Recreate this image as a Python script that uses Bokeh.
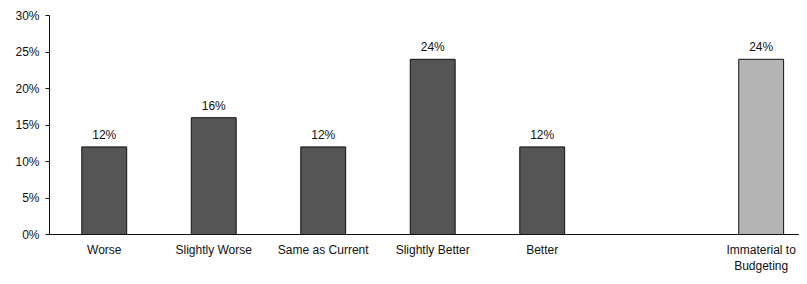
from bokeh.plotting import figure
from bokeh.models import Range1d, FixedTicker, ColumnDataSource, NumeralTickFormatter
from bokeh.core.properties import value
from bokeh.embed import file_html
from bokeh.resources import INLINE

categories = ["Worse", "Slightly Worse", "Same as Current", "Slightly Better", "Better", "", "Immaterial to\nBudgeting"]
values = [12, 16, 12, 24, 12, None, 24]
colors = ["#555555", "#555555", "#555555", "#555555", "#555555", None, "#b4b4b4"]
y_ticks = [0, 5, 10, 15, 20, 25, 30]

xs, tops, cols, labels = [], [], [], []
for i, (v, c) in enumerate(zip(values, colors)):
    if v is None:
        continue
    xs.append(i + 0.5)
    tops.append(v / 100)
    cols.append(c)
    labels.append(f"{v}%")
src = ColumnDataSource(dict(x=xs, top=tops, color=cols, label=labels))

p = figure(width=799, height=276, output_backend="svg", toolbar_location=None,
           x_range=Range1d(0, 6.85), y_range=Range1d(0, 0.30),
           min_border_left=49, min_border_top=15, min_border_bottom=39, min_border_right=0)
p.outline_line_color = None
p.grid.grid_line_color = None

p.vbar(x="x", top="top", width=0.41, source=src, fill_color="color", line_color="#111111", line_width=1)
p.text(x="x", y="top", text="label", source=src, text_align="center", text_baseline="bottom",
       y_offset=-5, text_font=value("Arial"), text_font_size="12px", text_color="#111111")

p.yaxis.ticker = FixedTicker(ticks=[t / 100 for t in y_ticks])
p.yaxis.formatter = NumeralTickFormatter(format="0%")
p.yaxis.major_tick_in = 0
p.yaxis.major_tick_out = 4
p.yaxis.minor_tick_line_color = None
p.yaxis.major_label_standoff = 6
p.yaxis.major_label_text_font = "Arial"
p.yaxis.major_label_text_font_size = "12px"
p.yaxis.major_label_text_color = "#111111"
p.yaxis.axis_line_color = "#111111"
p.yaxis.major_tick_line_color = "#111111"

p.xaxis.ticker = FixedTicker(ticks=[i + 0.5 for i in range(len(categories))])
p.xaxis.major_label_overrides = {i + 0.5: c for i, c in enumerate(categories)}
p.xaxis.major_tick_line_color = None
p.xaxis.major_tick_in = 0
p.xaxis.major_tick_out = 0
p.xaxis.minor_tick_line_color = None
p.xaxis.major_label_standoff = 8
p.xaxis.major_label_text_font = "Arial"
p.xaxis.major_label_text_font_size = "12px"
p.xaxis.major_label_text_color = "#111111"
p.xaxis.axis_line_color = "#111111"

open("out.html", "w").write(file_html(p, INLINE))
